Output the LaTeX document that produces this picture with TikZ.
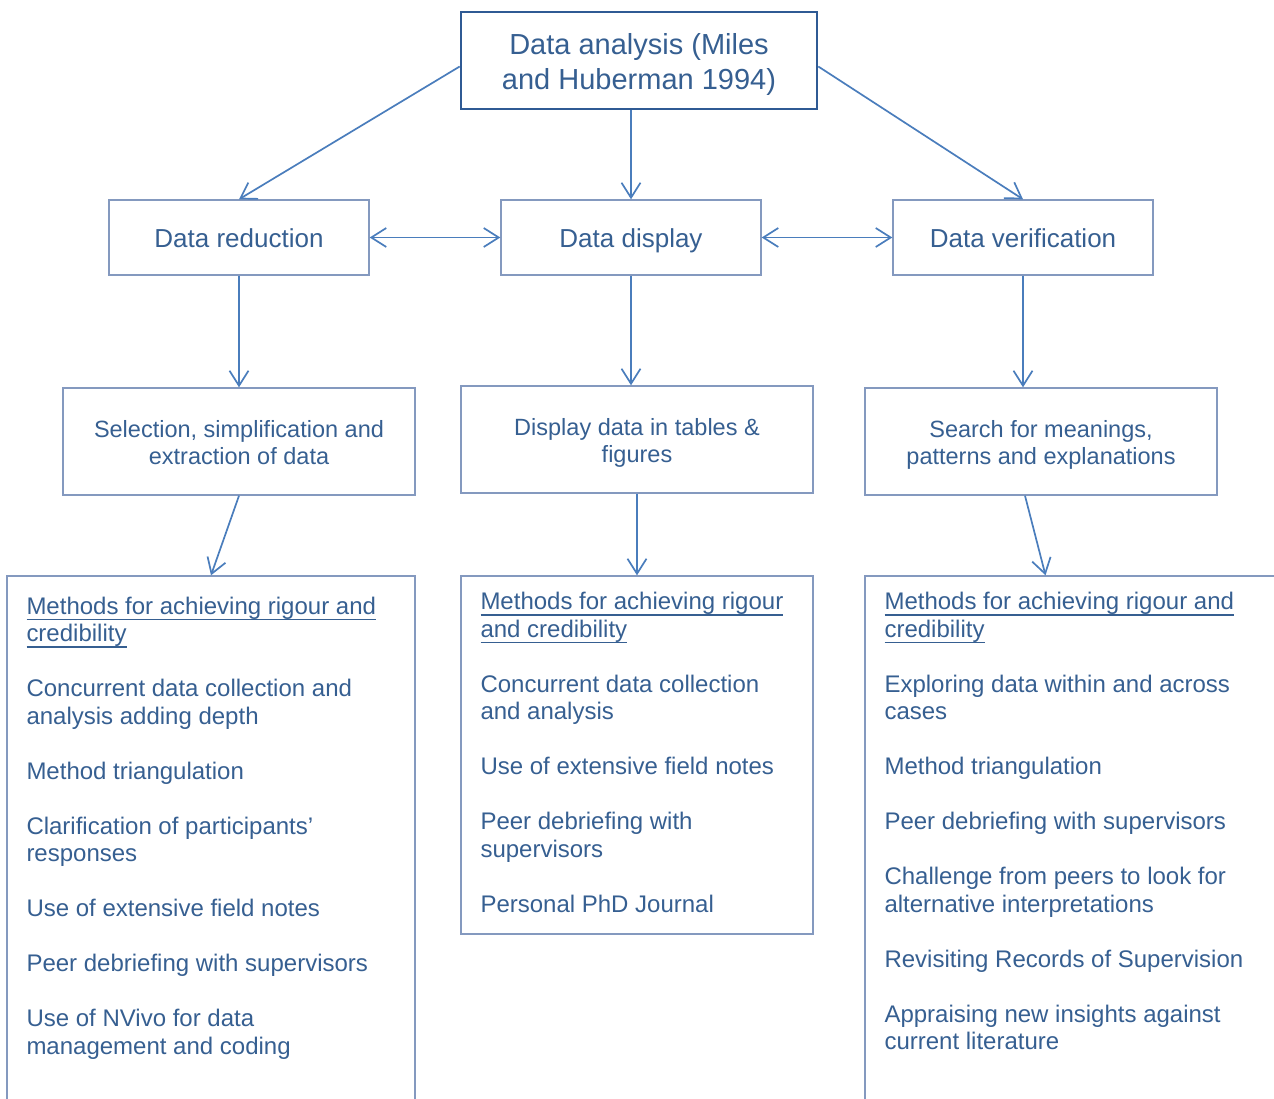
\documentclass[tikz,border=0pt]{standalone}
\usepackage{fontspec}
\setmainfont{Liberation Sans}
\usepackage{tikz}
\usetikzlibrary{arrows.meta,positioning}
\usepackage{xcolor}
\definecolor{headBlue}{HTML}{2F5A94}
\definecolor{boxGrey}{HTML}{8499BF}
\definecolor{arrowBlue}{HTML}{4A7DBC}
\definecolor{textBlue}{HTML}{365F91}
\newcommand{\uline}[1]{\setbox0\hbox{#1}\leavevmode\rlap{\rule[-6pt]{\wd0}{1.8pt}}\box0}

\begin{document}
\begin{tikzpicture}[
  x=1pt, y=-1pt,
  >={Straight Barb[length=15pt, width=19pt]},
  headbox/.style={draw=headBlue, line width=2.6pt, minimum width=356pt, minimum height=97pt,
    text height=66pt, text depth=8pt,
    align=center, text=textBlue, font=\fontsize{29}{35}\selectfont, inner sep=0pt},
  stagebox/.style={draw=boxGrey, line width=1.4pt, minimum width=260pt, minimum height=75pt,
    text height=22pt, text depth=2.5pt,
    text=textBlue, font=\fontsize{26}{31}\selectfont, inner sep=0pt},
  taskbox/.style={draw=boxGrey, line width=1.4pt, minimum width=352pt, minimum height=107pt,
    text height=50pt, text depth=5pt,
    align=center, text=textBlue, font=\fontsize{23.5}{27}\selectfont, inner sep=0pt},
  listbox/.style={draw=boxGrey, line width=1.4pt, inner sep=0pt},
  listtext/.style={anchor=north west, align=left, text=textBlue, font=\fontsize{24}{27.5}\selectfont, inner sep=0pt},
  link/.style={->, line width=1.7pt, draw=arrowBlue},
  twoway/.style={<->, line width=1.7pt, draw=arrowBlue}
]
  \useasboundingbox (0,0) rectangle (1274,1099);
  \clip (0,0) rectangle (1274,1099);

  % Top
  \node[headbox] (analysis) at (639,60.5) {Data analysis (Miles\\and Huberman 1994)};

  % Row 1: stages
  \node[stagebox] (reduction) at (239,237.5) {Data reduction};
  \node[stagebox] (display) at (631,237.5) {Data display};
  \node[stagebox] (verification) at (1023,237.5) {Data verification};

  % Row 2: what each stage does
  \node[taskbox] (selection) at (239,441.5) {Selection, simplification and\\extraction of data};
  \node[taskbox, text height=51pt] (tables) at (637,439.5) {Display data in tables \&\\figures};
  \node[taskbox] (search) at (1041,441.5) {Search for meanings,\\patterns and explanations};

  % Row 3: methods (left and right boxes run off the page)
  \node[listbox, minimum width=408pt, minimum height=544pt] (leftlist) at (211,848) {};
  \node[listbox, minimum width=352pt, minimum height=358pt] (midlist) at (637,755) {};
  \node[listbox, minimum width=425pt, minimum height=544pt] (rightlist) at (1077.5,848) {};

  \node[listtext] (lefttext) at ([xshift=20pt, yshift=-21.5pt]leftlist.north west) {
    \uline{Methods for achieving rigour and}\\
    \uline{credibility}\\[27.5pt]
    Concurrent data collection and\\
    analysis adding depth\\[27.5pt]
    Method triangulation\\[27.5pt]
    Clarification of participants’\\
    responses\\[27.5pt]
    Use of extensive field notes\\[27.5pt]
    Peer debriefing with supervisors\\[27.5pt]
    Use of NVivo for data\\
    management and coding
  };

  \node[listtext] (midtext) at ([xshift=20pt, yshift=-17pt]midlist.north west) {
    \uline{Methods for achieving rigour}\\
    \uline{and credibility}\\[27.5pt]
    Concurrent data collection\\
    and analysis\\[27.5pt]
    Use of extensive field notes\\[27.5pt]
    Peer debriefing with\\
    supervisors\\[27.5pt]
    Personal PhD Journal
  };

  \node[listtext] (righttext) at ([xshift=20pt, yshift=-17pt]rightlist.north west) {
    \uline{Methods for achieving rigour and}\\
    \uline{credibility}\\[27.5pt]
    Exploring data within and across\\
    cases\\[27.5pt]
    Method triangulation\\[27.5pt]
    Peer debriefing with supervisors\\[27.5pt]
    Challenge from peers to look for\\
    alternative interpretations\\[27.5pt]
    Revisiting Records of Supervision\\[27.5pt]
    Appraising new insights against\\
    current literature
  };

  % Connectors
  \draw[link] ([yshift=-6pt]analysis.west) -- (reduction.north);
  \draw[link] (analysis.south -| display.north) -- (display.north);
  \draw[link] ([yshift=-6pt]analysis.east) -- (verification.north);

  \draw[twoway] (reduction.east) -- (display.west);
  \draw[twoway] (display.east) -- (verification.west);

  \draw[link] (reduction.south) -- (reduction.south |- selection.north);
  \draw[link] (display.south) -- (display.south |- tables.north);
  \draw[link] (verification.south) -- (verification.south |- search.north);

  \draw[link] (selection.south) -- (leftlist.north);
  \draw[link] (tables.south) -- (midlist.north);
  \draw[link] ([xshift=-16pt]search.south) -- ([xshift=-32pt]rightlist.north);

\end{tikzpicture}
\end{document}
